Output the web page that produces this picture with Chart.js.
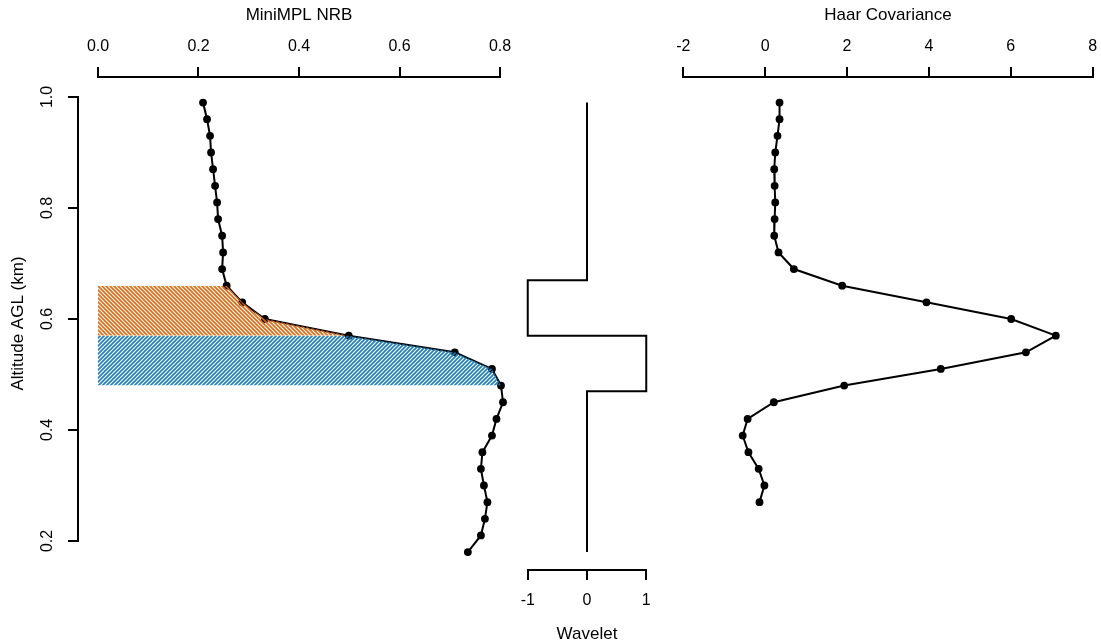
<!DOCTYPE html>
<html>
<head>
<meta charset="utf-8">
<script src="https://cdn.jsdelivr.net/npm/chart.js@4"></script>
<style>
    html, body { margin: 0; padding: 0; background: #fff; overflow: hidden; width: 1101px; height: 642px; }
    canvas { position: absolute; left: 0; top: 0; }
</style>
</head>
<body>
<canvas id="nrbChart" width="1120" height="650"></canvas>
<canvas id="waveChart" width="1120" height="650"></canvas>
<canvas id="haarChart" width="1120" height="650"></canvas>
<script>
// altitude bins (km AGL)
const altitude = [0.99, 0.96, 0.93, 0.90, 0.87, 0.84, 0.81, 0.78, 0.75, 0.72, 0.69, 0.66, 0.63, 0.60,
    0.57, 0.54, 0.51, 0.48, 0.45, 0.42, 0.39, 0.36, 0.33, 0.30, 0.27, 0.24, 0.21, 0.18];
const nrb = [0.209, 0.217, 0.223, 0.225, 0.229, 0.233, 0.237, 0.239, 0.247, 0.249, 0.247, 0.256, 0.287, 0.332,
    0.499, 0.710, 0.784, 0.802, 0.806, 0.793, 0.784, 0.765, 0.762, 0.768, 0.775, 0.770, 0.762, 0.736];

const haarAltitude = [0.99, 0.96, 0.93, 0.90, 0.87, 0.84, 0.81, 0.78, 0.75, 0.72, 0.69, 0.66, 0.63, 0.60,
    0.57, 0.54, 0.51, 0.48, 0.45, 0.42, 0.39, 0.36, 0.33, 0.30, 0.27];
const haar = [0.35, 0.35, 0.30, 0.245, 0.22, 0.23, 0.245, 0.23, 0.22, 0.325, 0.70, 1.88, 3.94, 6.01,
    7.10, 6.37, 4.29, 1.93, 0.21, -0.43, -0.55, -0.41, -0.16, -0.02, -0.14];

const waveletAltitude = [0.99, 0.67, 0.67, 0.57, 0.57, 0.47, 0.47, 0.18];
const wavelet = [0, 0, -1, -1, 1, 1, 0, 0];

// shaded layers (top, bottom)
const upperLayer = [0.66, 0.57];
const lowerLayer = [0.57, 0.48];

const altitudeTicks = [0.2, 0.4, 0.6, 0.8, 1.0];
const nrbTicks = [0.0, 0.2, 0.4, 0.6, 0.8];
const waveletTicks = [-1, 0, 1];
const haarTicks = [-2, 0, 2, 4, 6, 8];

const FONT = "'Liberation Sans', Arial, sans-serif";
const tickFont = { family: FONT, size: 16 };
const titleFont = { family: FONT, size: 17 };

Chart.defaults.animation = false;
Chart.defaults.responsive = false;
Chart.defaults.devicePixelRatio = 1;
Chart.defaults.events = [];
Chart.defaults.plugins.legend.display = false;
Chart.defaults.plugins.tooltip.enabled = false;

const toPoints = (xs, ys) => xs.map((v, i) => ({ x: v, y: ys[i] }));

function layerPoints(layer) {
    const pts = [];
    altitude.forEach((a, i) => {
        if (a <= layer[0] + 1e-9 && a >= layer[1] - 1e-9) pts.push({ x: nrb[i], y: a });
    });
    return pts;
}

function hatch(color, up) {
    const c = document.createElement('canvas');
    c.width = 4; c.height = 4;
    const g = c.getContext('2d');
    g.strokeStyle = color;
    g.lineWidth = 1.6;
    g.beginPath();
    if (up) {
        g.moveTo(-1, 5); g.lineTo(5, -1);
        g.moveTo(-1, 1); g.lineTo(1, -1);
        g.moveTo(3, 5); g.lineTo(5, 3);
    } else {
        g.moveTo(-1, -1); g.lineTo(5, 5);
        g.moveTo(3, -1); g.lineTo(5, 1);
        g.moveTo(-1, 3); g.lineTo(1, 5);
    }
    g.stroke();
    return document.getElementById('nrbChart').getContext('2d').createPattern(c, 'repeat');
}

// R style axis line: only between the first and last tick
const axisLine = {
    id: 'axisLine',
    afterDraw(chart) {
        const ctx = chart.ctx;
        const area = chart.chartArea;
        Object.values(chart.scales).forEach(s => {
            if (!s.options.display || !s.ticks.length) return;
            const a = s.getPixelForValue(s.ticks[0].value);
            const b = s.getPixelForValue(s.ticks[s.ticks.length - 1].value);
            ctx.save();
            ctx.strokeStyle = '#000';
            ctx.lineWidth = 2;
            ctx.lineCap = 'square';
            ctx.beginPath();
            if (s.isHorizontal()) {
                const y = Math.round(s.position === 'top' ? area.top : area.bottom);
                ctx.moveTo(Math.round(a), y); ctx.lineTo(Math.round(b), y);
            } else {
                const x = Math.round(area.left);
                ctx.moveTo(x, Math.round(a)); ctx.lineTo(x, Math.round(b));
            }
            ctx.stroke();
            ctx.restore();
        });
    }
};

const tickGrid = { display: true, drawOnChartArea: false, drawTicks: true, tickLength: 10, color: '#000', lineWidth: 2 };

function altitudeScale(show) {
    return {
        type: 'linear', position: 'left', display: show,
        min: 0.14775, max: 1.03604,
        afterBuildTicks: s => { s.ticks = altitudeTicks.map(v => ({ value: v })); },
        afterFit: s => { if (show) s.width = 78; },
        grid: tickGrid,
        border: { display: false },
        ticks: { font: tickFont, color: '#000', padding: 9, minRotation: 90, maxRotation: 90, crossAlign: 'center',
            callback: v => v.toFixed(1) },
        title: { display: true, text: 'Altitude AGL (km)', font: titleFont, color: '#000', padding: { top: 8 } }
    };
}

function valueScale(position, min, max, tickValues, label, digits) {
    return {
        type: 'linear', position: position, min: min, max: max,
        afterBuildTicks: s => { s.ticks = tickValues.map(v => ({ value: v })); },
        afterFit: s => { s.height = position === 'top' ? 77 : 80; },
        grid: tickGrid,
        border: { display: false },
        ticks: { font: tickFont, color: '#000', padding: 11, maxRotation: 0,
            callback: v => v.toFixed(digits) },
        title: { display: true, text: label, font: titleFont, color: '#000',
            padding: position === 'top' ? { top: 5 } : { bottom: 5 } }
    };
}

const lineStyle = { borderColor: '#000', borderWidth: 2, tension: 0, fill: false };

new Chart(document.getElementById('nrbChart'), {
    type: 'line',
    data: {
        datasets: [
            { data: layerPoints(upperLayer), fill: 'origin', backgroundColor: hatch('#e2680f', false),
              borderWidth: 0, borderColor: 'rgba(0,0,0,0)', pointRadius: 0 },
            { data: layerPoints(lowerLayer), fill: 'origin', backgroundColor: hatch('#1a7fc1', true),
              borderWidth: 0, borderColor: 'rgba(0,0,0,0)', pointRadius: 0 },
            { data: toPoints(nrb, altitude), ...lineStyle,
              pointRadius: 3.9, pointBackgroundColor: '#000', pointBorderWidth: 0 }
        ]
    },
    options: {
        indexAxis: 'y',
        layout: { padding: { left: 0, top: 0, right: 600, bottom: 80 } },
        scales: {
            x: valueScale('top', -0.0398, 0.8398, nrbTicks, 'MiniMPL NRB', 1),
            y: altitudeScale(true)
        }
    },
    plugins: [axisLine]
});

new Chart(document.getElementById('waveChart'), {
    type: 'line',
    data: {
        datasets: [
            { data: toPoints(wavelet, waveletAltitude), ...lineStyle, pointRadius: 0 }
        ]
    },
    options: {
        indexAxis: 'y',
        layout: { padding: { left: 523, top: 77, right: 1120 - 651, bottom: 0 } },
        scales: {
            x: valueScale('bottom', -1.08, 1.08, waveletTicks, 'Wavelet', 0),
            y: altitudeScale(false)
        }
    },
    plugins: [axisLine]
});

new Chart(document.getElementById('haarChart'), {
    type: 'line',
    data: {
        datasets: [
            { data: toPoints(haar, haarAltitude), ...lineStyle,
              pointRadius: 3.9, pointBackgroundColor: '#000', pointBorderWidth: 0 }
        ]
    },
    options: {
        indexAxis: 'y',
        layout: { padding: { left: 667, top: 0, right: 11, bottom: 80 } },
        scales: {
            x: valueScale('top', -2.4, 8.4, haarTicks, 'Haar Covariance', 0),
            y: altitudeScale(false)
        }
    },
    plugins: [axisLine]
});
</script>
</body>
</html>
